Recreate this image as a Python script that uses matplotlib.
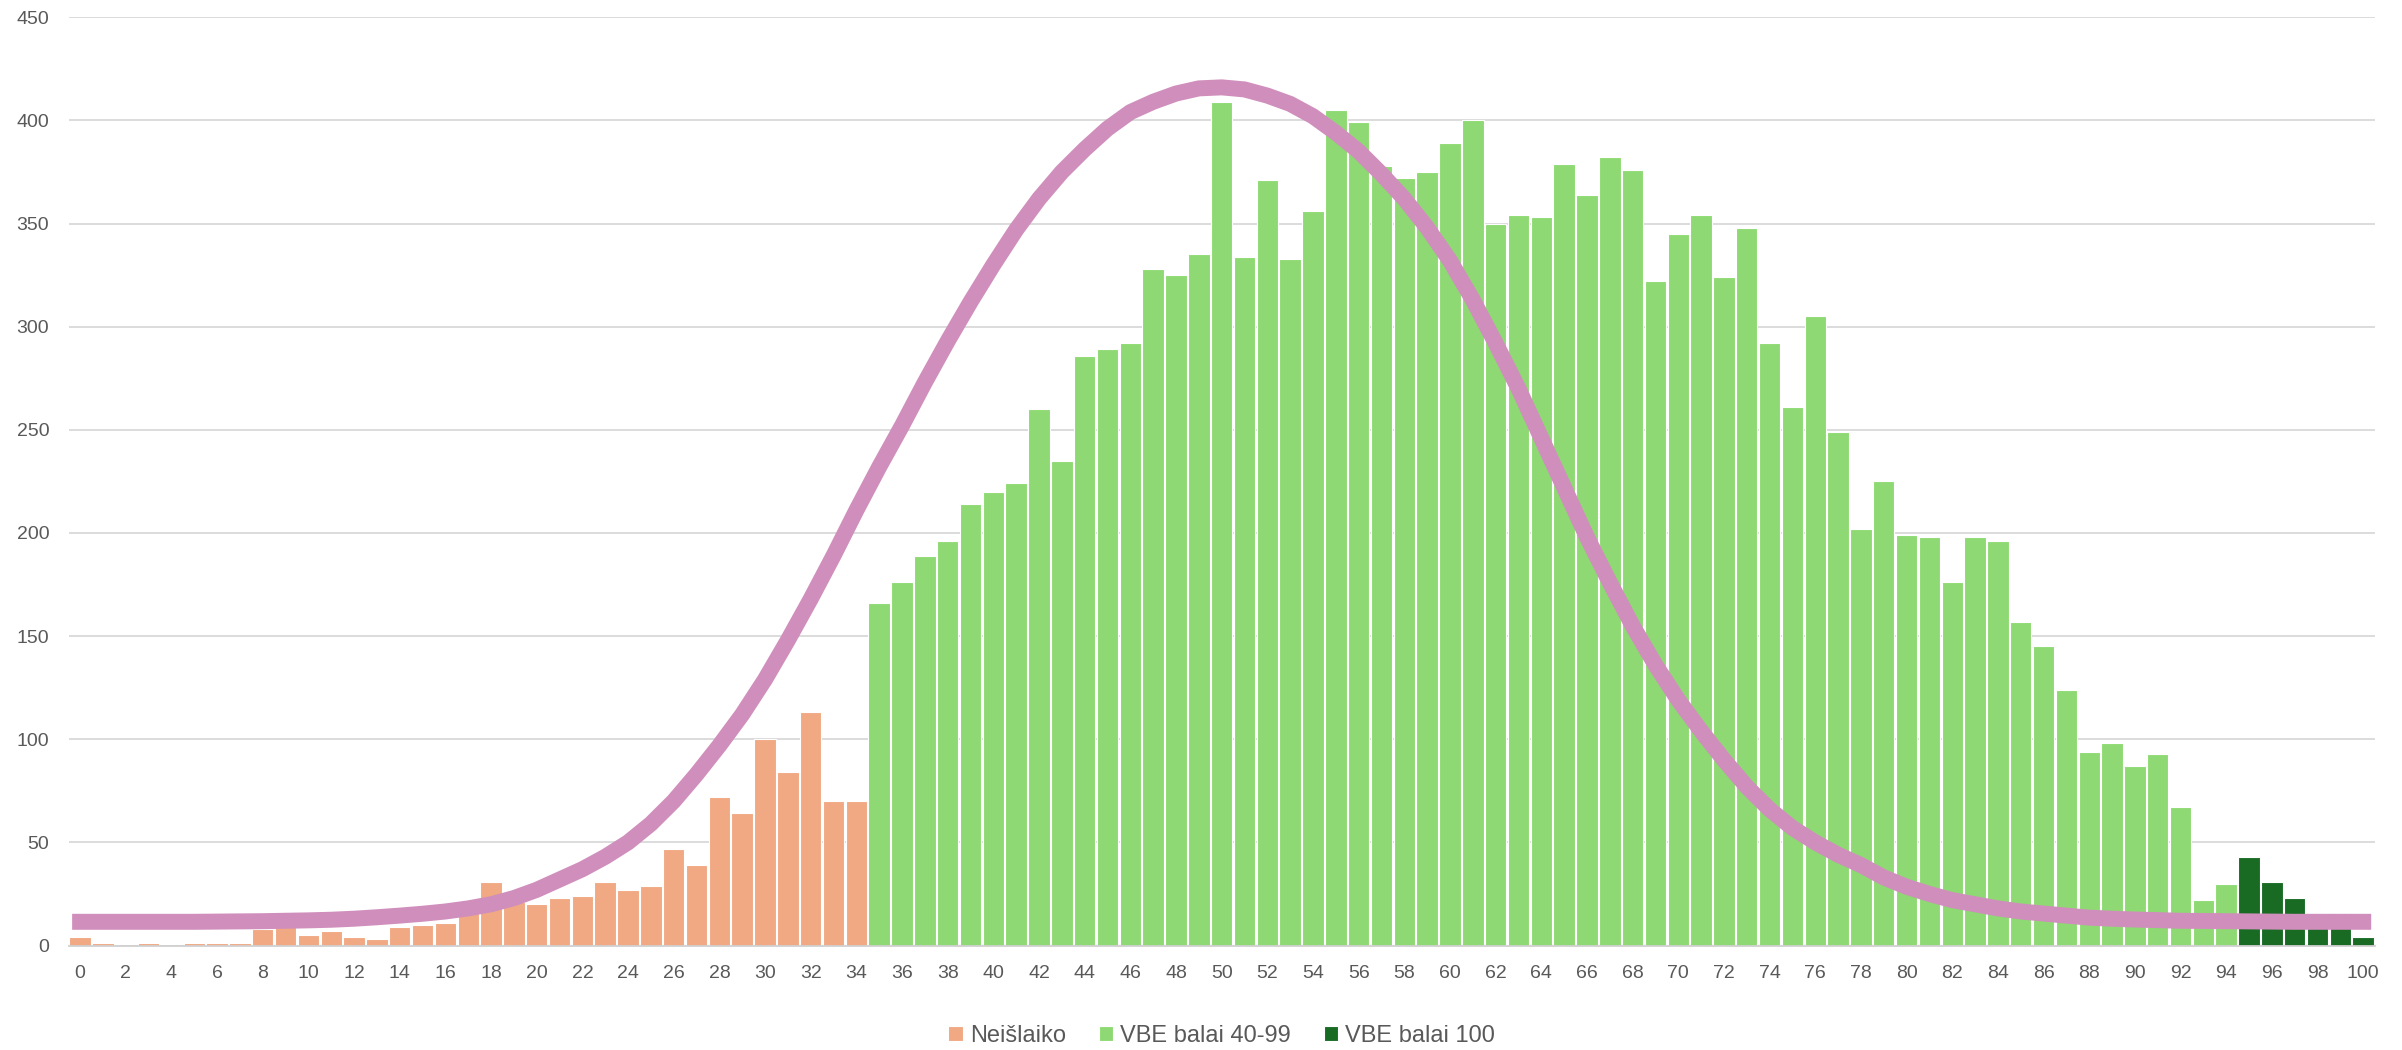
import numpy as np
import matplotlib
matplotlib.use("Agg")
import matplotlib.pyplot as plt

plt.rcParams['font.family'] = ['Liberation Sans Narrow', 'Liberation Sans', 'DejaVu Sans']

# --- datos ---
scores = np.arange(0, 101)
counts = [4, 1, 0, 1, 0, 1, 1, 1, 8, 16, 5, 7, 4, 3, 9, 10, 11, 17, 31, 21,
          20, 23, 24, 31, 27, 29, 47, 39, 72, 64, 100, 84, 113, 70, 70,
          166, 176, 189, 196, 214, 220, 224, 260, 235, 286,
          289, 292, 328, 325, 335, 409, 334, 371, 333, 356,
          405, 399, 378, 372, 375, 389, 400, 350, 354, 353,
          379, 364, 382, 376, 322, 345, 354, 324, 348, 292,
          261, 305, 249, 202, 225, 199, 198, 176, 198, 196,
          157, 145, 124, 94, 98, 87, 93, 67, 22, 30,
          43, 31, 23, 14, 16, 4]

# curva (un punto por cada balas)
curve_y = [11.5, 11.5, 11.5, 11.5, 11.5, 11.5, 11.6, 11.7, 11.8, 12.0,
           12.2, 12.5, 13.0, 13.7, 14.5, 15.4, 16.5, 18.0, 20.0, 23.0,
           27.0, 32.0, 37.0, 43.0, 50.0, 59.0, 70.0, 83.0, 97.0, 112.0,
           129.0, 148.0, 168.0, 189.0, 211.0, 232.0, 252.0, 273.0, 293.0, 312.0,
           330.0, 347.0, 362.0, 375.0, 386.0, 396.0, 404.0, 409.0, 413.0, 415.5,
           416.0, 415.0, 412.0, 408.0, 402.0, 394.0, 385.0, 374.0, 362.0, 348.0,
           332.0, 313.0, 292.0, 270.0, 246.0, 222.0, 198.0, 176.0, 155.0, 136.0,
           119.0, 104.0, 90.0, 77.0, 66.0, 57.0, 50.0, 44.0, 39.0, 33.0,
           28.5, 25.0, 22.0, 20.0, 18.0, 16.5, 15.5, 14.5, 13.5, 13.0,
           12.6, 12.3, 12.0, 11.9, 11.8, 11.7, 11.6, 11.5, 11.5, 11.5, 11.5]

labels = ['Neišlaiko', 'VBE balai 40-99', 'VBE balai 100']
colors = ['#F1A983', '#8ED973', '#196B24']
groups = [(0, 35), (35, 95), (95, 101)]

fig = plt.figure(figsize=(24.02, 10.5), dpi=100)
ax = fig.add_axes([0.0286, 0.0995, 0.96, 0.8841])

for (a, b), lab, col in zip(groups, labels, colors):
    ax.bar(scores[a:b], counts[a:b], width=0.94, color=col, edgecolor='white',
           linewidth=0.8, label=lab, zorder=2)

ax.plot(scores, curve_y, color='#D08EBC', linewidth=11.5,
        solid_capstyle='projecting', solid_joinstyle='round', zorder=3)

ax.set_xlim(-0.5, 100.5)
ax.set_ylim(0, 450)
ax.set_yticks(range(0, 451, 50))
ax.set_xticks(range(0, 101, 2))
ax.grid(axis='y', color='#D9D9D9', linewidth=1.3, zorder=0)
ax.set_axisbelow(True)
for s in ['top', 'right', 'left']:
    ax.spines[s].set_visible(False)
ax.spines['bottom'].set_color('#D0D0D0')
ax.spines['bottom'].set_linewidth(1.3)
ax.tick_params(axis='both', length=0, labelsize=14, colors='#595959')
ax.tick_params(axis='x', pad=14)
ax.tick_params(axis='y', pad=14)

ax.legend(loc='center', bbox_to_anchor=(0.5, -0.097), ncol=3, frameon=False,
          fontsize=17, handlelength=0.6, handleheight=0.6, handletextpad=0.3,
          columnspacing=1.4, labelcolor='#595959')

fig.savefig('out.png', dpi=100, facecolor='white')
